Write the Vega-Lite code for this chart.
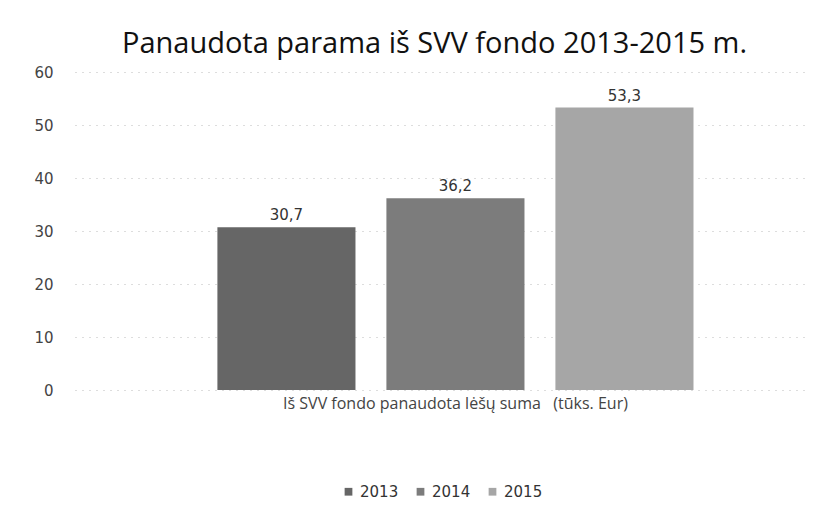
{
  "$schema": "https://vega.github.io/schema/vega-lite/v6.json",
  "width": 735,
  "height": 318,
  "autosize": "none",
  "padding": {"left": 75, "top": 72, "right": 24, "bottom": 139},
  "background": "white",
  "config": {
    "locale": {"number": {"decimal": ",", "thousands": " ", "grouping": [3], "currency": ["", " €"]}},
    "view": {"stroke": null},
    "font": "Open Sans"
  },
  "title": {
    "text": "Panaudota parama iš SVV fondo 2013-2015 m.",
    "fontSize": 29,
    "font": "Open Sans",
    "fontWeight": "normal",
    "color": "#111111",
    "anchor": "middle",
    "dx": -8,
    "offset": 6
  },
  "data": {
    "values": [
      {"category": "Iš SVV fondo panaudota lėšų suma   (tūks. Eur)", "year": "2013", "value": 30.7},
      {"category": "Iš SVV fondo panaudota lėšų suma   (tūks. Eur)", "year": "2014", "value": 36.2},
      {"category": "Iš SVV fondo panaudota lėšų suma   (tūks. Eur)", "year": "2015", "value": 53.3}
    ]
  },
  "encoding": {
    "x": {
      "field": "year",
      "type": "nominal",
      "scale": {"paddingInner": 0.183, "paddingOuter": 0.766, "align": 0.55},
      "axis": {
        "labels": false,
        "ticks": false,
        "domain": false,
        "title": "Iš SVV fondo panaudota lėšų suma \u00a0 (tūks. Eur)",
        "titleFont": "Open Sans",
        "titleFontWeight": "normal",
        "titleFontSize": 16,
        "titleColor": "#444444",
        "titleX": 380,
        "titlePadding": 5
      }
    },
    "y": {
      "field": "value",
      "type": "quantitative",
      "scale": {"domain": [0, 60]},
      "axis": {
        "values": [0, 10, 20, 30, 40, 50, 60],
        "title": null,
        "domain": false,
        "ticks": false,
        "labelPadding": 22,
        "labelFontSize": 15,
        "labelFont": "DejaVu Sans",
        "labelColor": "#444444",
        "gridColor": "#bbbbbb",
        "gridDash": [1, 6],
        "gridWidth": 1
      }
    }
  },
  "layer": [
    {
      "mark": {"type": "bar"},
      "encoding": {
        "color": {
          "field": "year",
          "type": "nominal",
          "scale": {"domain": ["2013", "2014", "2015"], "range": ["#666666", "#7c7c7c", "#a6a6a6"]},
          "legend": {
            "orient": "none",
            "legendX": 266,
            "legendY": 412,
            "direction": "horizontal",
            "title": null,
            "labelFontSize": 15,
            "labelFont": "DejaVu Sans",
            "labelColor": "#333333",
            "symbolType": "square",
            "symbolSize": 60,
            "columnPadding": 14
          }
        }
      }
    },
    {
      "mark": {"type": "text", "dy": -12, "fontSize": 15, "font": "DejaVu Sans", "color": "#333333"},
      "encoding": {
        "text": {"field": "value", "type": "quantitative", "format": ".1f"}
      }
    }
  ]
}
